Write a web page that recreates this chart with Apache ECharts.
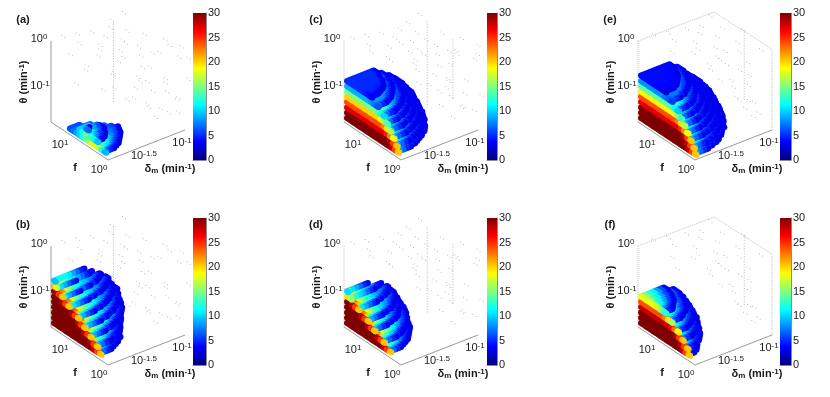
<!DOCTYPE html>
<html><head><meta charset="utf-8">
<style>html,body{margin:0;padding:0;background:#fff}#c{width:830px;height:397px}</style>
<script src="https://cdn.jsdelivr.net/npm/echarts@6/dist/echarts.min.js"></script></head>
<body><div id="c"></div>
<script>
// ---- shared readings ----
const colorbarTicks = [0,5,10,15,20,25,30];
const jetStops = ['#00007f','#0000ff','#007fff','#00ffff','#7fff7f','#ffff00','#ff7f00','#ff0000','#7f0000'];
const panelNames = ['(a)','(b)','(c)','(d)','(e)','(f)'];
// value by number of delta cells from the outer arc of a layer
const endVal = [4,6,8.5,11,13,15,18,22,40];
// fraction kept on the delta-min face by cells from the far f end
const tipFrac = [0.68,0.82,0.94,1];
// fraction kept on a layer's top surface by cells from the far f end
const rimFrac = [0.8,0.92,1];
// outline of one theta layer: f reach as a fraction, along the delta extent
const arcShape = [1,0.995,0.98,0.954,0.917,0.866,0.8,0.714,0.6,0.436,0.2];

// per panel, per theta layer (bottom first): f reach, delta extent, first f offset, ceiling value
// per delta cell: value ceiling; per f cell: ceiling (panel a only); per delta cell: first f cell (panel a only)
const capA=[16.5,14,11], lenA=[11,7,3], startA=[0,3,5], topA=[19,14,10];
const dValA=[19,18,15,12,10,8,7,6,5,4,4,4];
const fCeilA=[6,6,6,6,6,6,7,8.5,10,12,14,16,18,18,17,12,9];
const firstA=[5,5,5,6,6,7,8,9,10,11,12,13];
const capB=[15,14,12,10,8,5.4,3.3,1.2,0.5], lenB=[12.5,13.5,15,15,14,13.5,12,10,8], topB=[30,30,30,30,30,30,30,26,14];
const dValB=[45,24,19,16,14,12.5,11.5,10.5,9.5,8.5,8,7,6.5,6,5,5];
const capC=[16.5,16,15,14,13,12,10,8], lenC=[15.5,15,14.5,13.5,12.5,11,9,7], topC=[30,30,27,24,20,15,9,5];
const dValC=[45,21,16,12.5,10,8.5,7.5,6.5,6,5.5,5,5,4.5,4.5,4,4];
const capD=[14,12,9,7,4,1.5,0.5], lenD=[12,12.5,12,11.5,10.5,9,5.5], topD=[30,30,30,30,30,24,15];
const dValD=[45,23,18,15,12.5,11,10,9,8,7.5,7,6,5.5];
const capE=[17.5,17,16,15,14,13,12,10,8], lenE=[16.5,16,15.5,14.5,13.5,12,10.5,9.5,7.5], topE=[30,30,30,27,24,19,14,8,4];
const dValE=[45,21,15,11,9,7.5,6.5,6,5.5,5,5,4.5,4.5,4,4,4,4];
const capF=[15.5,15,13.5,12,10,8], lenF=[7.5,9.5,10,9.5,8.5,6], topF=[30,30,30,28,24,18];
const dValF=[45,22,16,12.5,10,8.5,7.5,6.5,6,5.5,5];

// sparse grey points, as [f cell, delta cell, theta layer]
const cloudAB=[[0,2,15],[1,5,15],[2,8,15],[3,12,15],[1,14,15],[0,18,15],[4,3,15],[5,9,15],[6,14,15],[7,6,15],[8,11,15],[9,16,15],[10,3,15],[11,8,15],[12,12,15],[13,18,15],[14,5,15],[15,10,15],[16,14,15],[17,19,15],
[0,4,11],[2,10,11],[3,16,11],[5,4,11],[7,12,11],[9,18,11],[11,6,11],[13,14,11],[15,3,11],[17,10,11],[0,8,7],[3,3,7],[4,12,7],[6,18,7],[8,6,7],[10,14,7],[12,19,7],[14,9,7],[16,16,7],
[2,20,3],[5,17,3],[8,19,3],[11,15,3],[14,16,3],[16,13,3],[17,18,3],[6,14,2],[9,17,1],[13,19,1],[16,19,5],[18,17,6],[18,20,9],[18,14,10],[15,20,12],[12,20,13],[18,20,13]];
const cloudCD=[[0,1,15],[1,4,15],[2,7,15],[3,11,15],[2,14,15],[1,18,15],[4,2,15],[5,8,15],[6,13,15],[7,5,15],[8,10,15],[9,17,15],[10,2,15],[11,7,15],[12,13,15],[13,19,15],[14,6,15],[15,11,15],[16,15,15],[17,20,15],
[0,6,11],[1,13,11],[3,18,11],[5,7,11],[7,14,11],[9,19,11],[11,9,11],[13,16,11],[15,6,11],[17,12,11],[2,17,9],[4,14,8],[6,19,7],[8,16,7],[10,18,6],[12,14,6],[14,19,5],[16,17,4],[18,12,8],
[4,18,3],[7,20,3],[10,16,2],[13,19,2],[15,15,2],[17,19,3],[18,20,6],[18,16,10],[16,20,12],[14,17,13],[18,19,14]];
const cloudEF=[[0,3,15],[1,6,15],[2,10,15],[3,13,15],[1,17,15],[4,5,15],[5,11,15],[6,16,15],[7,8,15],[8,13,15],[9,19,15],[10,5,15],[11,10,15],[12,15,15],[14,8,15],[15,13,15],[17,17,15],
[1,7,11],[3,12,11],[5,5,11],[7,16,11],[9,10,11],[11,13,11],[13,17,11],[15,8,11],[17,14,11],[4,17,8],[6,13,8],[8,19,7],[10,15,7],[12,18,6],[14,13,6],[16,16,5],[18,13,7],[6,19,3],[9,18,2],[12,17,2],[15,18,2],[17,15,3]];
// dotted vertical runs, as [f cell, delta cell, lowest layer, highest layer]
const columnsAB=[[2,14,0,15]];
const columnsCD=[[3,18.6,-2,14],[5,23.7,-1,10]];
const columnsEF=[[5,23,-1,12]];

const panels=[
 {cap:capA,len:lenA,start:startA,top:topA,dv:dValA,fCeil:fCeilA,first:firstA,cloud:cloudAB,cols:columnsAB,ox:0,oy:0,bar:[193,13],box:'solid'},
 {cap:capB,len:lenB,top:topB,dv:dValB,cloud:cloudAB,cols:columnsAB,ox:0,oy:205,bar:[193,13],box:'solid'},
 {cap:capC,len:lenC,top:topC,dv:dValC,cloud:cloudCD,cols:columnsCD,ox:293,oy:0,bar:[487,10],box:'left'},
 {cap:capD,len:lenD,top:topD,dv:dValD,cloud:cloudCD,cols:columnsCD,ox:293,oy:205,bar:[487,10],box:'left'},
 {cap:capE,len:lenE,top:topE,dv:dValE,cloud:cloudEF,cols:columnsEF,ox:587,oy:0,bar:[780,11],box:'full'},
 {cap:capF,len:lenF,top:topF,dv:dValF,cloud:cloudEF,cols:columnsEF,ox:587,oy:205,bar:[780,11],box:'full'}
];

// oblique view of the (f, delta, theta) box
const project=(i,d,k)=>[54+3.17*i+3.8*d, 118+2.11*i-1.5*d-5.3*k];

function voxels(p){
  const out=[];
  const at=(a,q)=>a[Math.min(Math.floor(q),a.length-1)];
  p.cap.forEach((cap,k)=>{
    const L=p.len[k];
    const reach=d=>{
      if(d>L) return -1;
      const t=d/L*10, a=Math.floor(t), b=Math.min(a+1,10);
      return cap*(arcShape[a]+(arcShape[b]-arcShape[a])*(t-a));
    };
    for(let d=Math.floor(L*2)/2;d>=0;d-=0.5){
      const r=reach(d);
      const i0=(p.first?at(p.first,d):0)+(p.start?p.start[k]:0);
      for(let i=i0;i<=r+0.01;i+=0.5){
        let last=d; while(reach(last+0.5)>=i) last+=0.5;
        let v;
        const m=r-i;
        if(d===0) v=Math.min(p.top[k],p.dv[0])*at(tipFrac,m);
        else v=Math.min(p.top[k],p.dv[Math.min(Math.ceil(d),p.dv.length-1)],at(endVal,last-d))*at(rimFrac,m);
        if(p.fCeil) v=Math.min(v,at(p.fCeil,i));
        const xy=project(i,d,k);
        out.push([xy[0],xy[1],Math.min(30,v)]);
      }
    }
  });
  return out;
}
function greyPoints(p){
  const pts=[];
  p.cloud.forEach(c=>{ [0,1].forEach(s=>pts.push(project(c[0]+s,c[1],c[2]))); });
  p.cols.forEach(c=>{ for(let k=c[2];k<=c[3];k+=0.5) pts.push(project(c[0],c[1],k)); });
  return pts;
}
const boxBase=[[51,122],[108,160],[185,130]];
const boxLeft=[[51,41],[51,122]];
const boxBack=[[51,41],[127,12],[185,49],[185,130]];

const grid=[],xAxis=[],yAxis=[],series=[],graphic=[],mainIdx=[];
const TXT='Liberation Sans,Arial,sans-serif', TC='#1a1a1a';
const rich={n:{fontSize:11,fontFamily:TXT,fill:TC,color:TC},s:{fontSize:8,fontFamily:TXT,fill:TC,color:TC,verticalAlign:'top',padding:[0,0,4,0]}};
function addText(text,x,y,o){
  graphic.push(Object.assign({type:'text',x:x,y:y,silent:true,style:Object.assign({text:text,fill:TC,font:'11px '+TXT,rich:rich,align:'center',verticalAlign:'middle'},o&&o.style)},o&&o.el));
}
panels.forEach((p,ix)=>{
  const g=grid.length;
  grid.push({left:p.ox,top:p.oy,width:240,height:190});
  xAxis.push({gridIndex:g,type:'value',min:0,max:240,show:false});
  yAxis.push({gridIndex:g,type:'value',min:0,max:190,inverse:true,show:false});
  const line=(pts,t,c)=>series.push({type:'line',xAxisIndex:g,yAxisIndex:g,data:pts,symbol:'none',silent:true,animation:false,lineStyle:{color:c,width:1,type:t},z:1});
  line(boxBase,'solid','#9a9a9a');
  line(boxLeft,p.box==='solid'?'solid':'dotted',p.box==='solid'?'#9a9a9a':'#c0c0c0');
  if(p.box==='full') line(boxBack,'dotted','#c0c0c0');
  series.push({type:'scatter',xAxisIndex:g,yAxisIndex:g,symbol:'rect',symbolSize:1,silent:true,animation:false,z:2,
    itemStyle:{color:'#aaaaaa'},data:greyPoints(p)});
  mainIdx.push(series.length);
  series.push({type:'scatter',xAxisIndex:g,yAxisIndex:g,symbolSize:6,silent:true,animation:false,progressive:0,large:false,z:3,
    itemStyle:{opacity:1},data:voxels(p)});
  // colour bar
  const b=grid.length;
  grid.push({left:p.bar[0],top:p.oy+13,width:p.bar[1],height:147});
  xAxis.push({gridIndex:b,type:'category',data:[''],axisLine:{show:true,lineStyle:{color:'#8a8a8a'}},axisTick:{show:false},axisLabel:{show:false}});
  yAxis.push({gridIndex:b,type:'value',min:colorbarTicks[0],max:colorbarTicks[6],interval:5,position:'right',splitLine:{show:false},
    axisLine:{show:true,lineStyle:{color:'#8a8a8a'}},axisTick:{show:false},axisLabel:{fontSize:11,fontFamily:TXT,color:TC,margin:2}});
  series.push({type:'bar',xAxisIndex:b,yAxisIndex:b,barWidth:'100%',silent:true,animation:false,data:[30],
    itemStyle:{color:new echarts.graphic.LinearGradient(0,1,0,0,jetStops.map((c,q)=>({offset:q/8,color:c})))}});
  // texts
  const X=p.ox,Y=p.oy;
  addText(panelNames[ix],X+23,Y+20,{style:{font:'bold 11px '+TXT}});
  addText('{n|10}{s|0}',X+39,Y+39);
  addText('{n|10}{s|-1}',X+40,Y+86);
  addText('{n|10}{s|1}',X+60,Y+145);
  addText('{n|10}{s|0}',X+99,Y+170);
  addText('{n|10}{s|-1.5}',X+144,Y+156);
  addText('{n|10}{s|-1}',X+182,Y+143);
  addText('f',X+75,Y+168,{style:{font:'bold 11px '+TXT}});
  const br={n:{fontSize:11,fontWeight:'bold',fontFamily:TXT,fill:TC},s:{fontSize:8,fontWeight:'bold',fontFamily:TXT,fill:TC,verticalAlign:'top',padding:[0,0,4,0]},u:{fontSize:8,fontWeight:'bold',fontFamily:TXT,fill:TC,verticalAlign:'bottom',padding:[4,0,0,0]}};
  addText('{n|\u03b8 (min}{s|-1}{n|)}',X+24,Y+82,{el:{rotation:Math.PI/2},style:{rich:br}});
  addText('{n|\u03b4}{u|m}{n| (min}{s|-1}{n|)}',X+170,Y+169,{style:{rich:br}});
});
const chart=echarts.init(document.getElementById('c'),null,{renderer:'canvas'});
chart.setOption({animation:false,backgroundColor:'#fff',grid,xAxis,yAxis,series,graphic:{elements:graphic},
  visualMap:{show:false,type:'continuous',min:0,max:30,dimension:2,seriesIndex:mainIdx,inRange:{color:jetStops}}});
</script></body></html>
